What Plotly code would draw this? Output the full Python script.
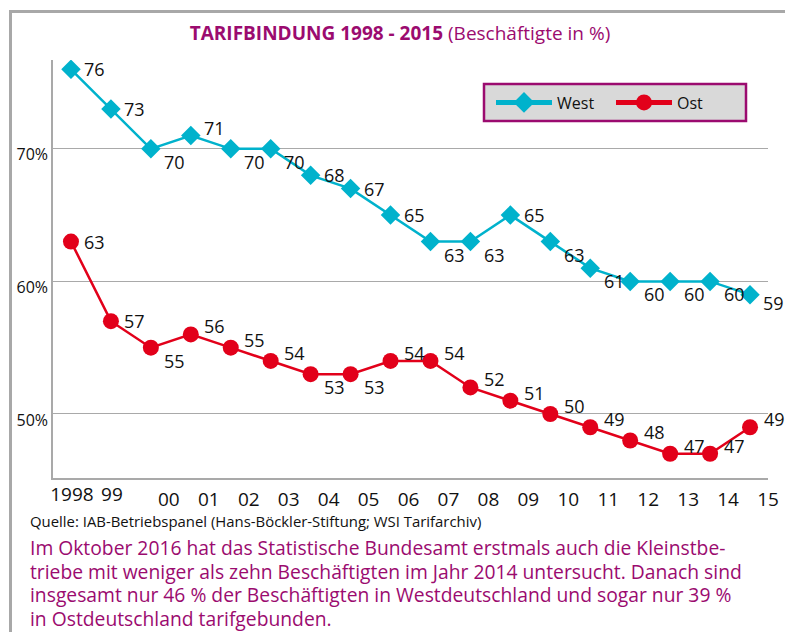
import plotly.graph_objects as go

years = list(range(1998, 2016))
year_labels = ["1998", "99", "00", "01", "02", "03", "04", "05", "06",
               "07", "08", "09", "10", "11", "12", "13", "14", "15"]
west = [76, 73, 70, 71, 70, 70, 68, 67, 65, 63, 63, 65, 63, 61, 60, 60, 60, 59]
ost = [63, 57, 55, 56, 55, 54, 53, 53, 54, 54, 52, 51, 50, 49, 48, 47, 47, 49]

source_text = "Quelle: IAB-Betriebspanel (Hans-Böckler-Stiftung; WSI Tarifarchiv)"
note_lines = [
    "Im Oktober 2016 hat das Statistische Bundesamt erstmals auch die Kleinstbe-",
    "triebe mit weniger als zehn Beschäftigten im Jahr 2014 untersucht. Danach sind",
    "insgesamt nur 46 % der Beschäftigten in Westdeutschland und sogar nur 39 %",
    "in Ostdeutschland tarifgebunden.",
]

# label placement codes (style only)
west_place = ["R", "R", "BR", "TR", "BR", "BR", "R", "R", "R", "BR", "BR", "R",
              "BR", "BR", "BR", "BR", "BR", "R2"]
ost_place = ["R", "R", "BR", "TR", "TR", "TR", "BR", "BR", "TR", "TR", "TR", "TR",
             "TR", "TR", "TR", "TR", "TR", "TR"]
OFFS = {"R": (24, 0), "R2": (23, 8), "BR": (24, 13), "TR": (24, -8)}

WEST_C = "#00B2CC"
OST_C = "#E2001A"
PURPLE = "#9B0B6F"
GRID = "#A9A9A9"
FONT = "Open Sans"

fig = go.Figure()
fig.add_trace(go.Scatter(
    x=years, y=west, name="West", mode="lines+markers", showlegend=False,
    line=dict(color=WEST_C, width=2.5),
    marker=dict(symbol="diamond", size=15, color=WEST_C),
))
fig.add_trace(go.Scatter(
    x=years, y=ost, name="Ost", mode="lines+markers", xaxis="x2", showlegend=False,
    line=dict(color=OST_C, width=2.5),
    marker=dict(symbol="circle", size=16, color=OST_C),
))
# legend entries (thicker samples as in the original key)
fig.add_trace(go.Scatter(
    x=[None], y=[None], name="West", mode="lines+markers",
    line=dict(color=WEST_C, width=5),
    marker=dict(symbol="diamond", size=16, color=WEST_C),
))
fig.add_trace(go.Scatter(
    x=[None], y=[None], name="Ost", mode="lines+markers",
    line=dict(color=OST_C, width=5),
    marker=dict(symbol="circle", size=16, color=OST_C),
))

annotations = []
for xs, vals, places in ((years, west, west_place), (years, ost, ost_place)):
    for xv, v, p in zip(xs, vals, places):
        dx, dy = OFFS[p]
        annotations.append(dict(
            x=xv, y=v, xref="x", yref="y", text=str(v), showarrow=False,
            xshift=dx, yshift=-dy, xanchor="center", yanchor="middle",
            font=dict(family=FONT, size=18, color="#111111"),
        ))

PH = 418.0  # plot height in px
PW = 715.0
annotations.append(dict(
    xref="paper", yref="paper", x=(28 - 53) / PW, y=(478 - 521) / PH,
    xanchor="left", yanchor="middle", text=source_text, showarrow=False,
    font=dict(family=FONT, size=14.9, color="#111111"), align="left",
))
for i, line in enumerate(note_lines):
    annotations.append(dict(
        xref="paper", yref="paper", x=(28 - 53) / PW, y=(478 - (547.5 + 23.7 * i)) / PH,
        xanchor="left", yanchor="middle", text=line, showarrow=False,
        font=dict(family=FONT, size=19.3, color=PURPLE), align="left",
    ))

shapes = [
    # outer frame
    dict(type="rect", xref="paper", yref="paper",
         x0=(10.5 - 53) / PW, x1=(800 - 53) / PW, y0=(478 - 650) / PH, y1=(478 - 11.5) / PH,
         line=dict(color="#A8A8A8", width=3), fillcolor="rgba(0,0,0,0)", layer="below"),
    # legend box
    dict(type="rect", xref="paper", yref="paper",
         x0=(484 - 53) / PW, x1=(746 - 53) / PW, y0=(478 - 121) / PH, y1=(478 - 84) / PH,
         line=dict(color=PURPLE, width=2.5), fillcolor="#D9D9D9", layer="below"),
]

fig.update_layout(
    width=785, height=632,
    margin=dict(l=53, r=17, t=60, b=154, autoexpand=False),
    paper_bgcolor="white", plot_bgcolor="white",
    font=dict(family=FONT, color="#111111"),
    title=dict(
        text="<b>TARIFBINDUNG 1998 - 2015</b> (Beschäftigte in %)",
        x=400 / 785, xanchor="center", xref="container",
        y=1 - 33 / 632, yanchor="middle", yref="container",
        font=dict(family=FONT, size=19, color=PURPLE),
    ),
    showlegend=True,
    legend=dict(
        orientation="h", x=(491 - 53) / PW, y=(478 - 102.5) / PH,
        xanchor="left", yanchor="middle",
        bgcolor="rgba(0,0,0,0)", borderwidth=0, itemwidth=56,
        entrywidth=49, entrywidthmode="pixels",
        font=dict(family=FONT, size=16, color="#111111"),
    ),
    xaxis=dict(
        range=[1997.55, 2015.45], tickvals=years[2:], ticktext=year_labels[2:],
        showgrid=False, zeroline=False, showline=True, linecolor=GRID, linewidth=1.5,
        ticks="", ticklabelshift=18, ticklabelstandoff=3,
        tickfont=dict(family=FONT, size=19, color="#111111"),
    ),
    xaxis2=dict(
        overlaying="x", matches="x", side="bottom", anchor="y",
        tickvals=years[:2], ticktext=year_labels[:2],
        showgrid=False, zeroline=False, showline=False,
        ticks="", ticklabelshift=1, ticklabelstandoff=3,
        tickfont=dict(family=FONT, size=19, color="#111111"),
    ),
    yaxis=dict(
        range=[45.17, 76.7], tickvals=[50, 60, 70], ticktext=["50%", "60%", "70%"],
        showgrid=True, gridcolor=GRID, gridwidth=1, zeroline=False,
        showline=True, linecolor=GRID, linewidth=1.5, ticks="",
        ticklabelshift=6, ticklabelstandoff=0,
        tickfont=dict(family=FONT, size=16, color="#111111"),
    ),
    annotations=annotations,
    shapes=shapes,
)

fig.write_html("out.html", post_script="document.body.style.margin='0';",
               config={"displayModeBar": False})
